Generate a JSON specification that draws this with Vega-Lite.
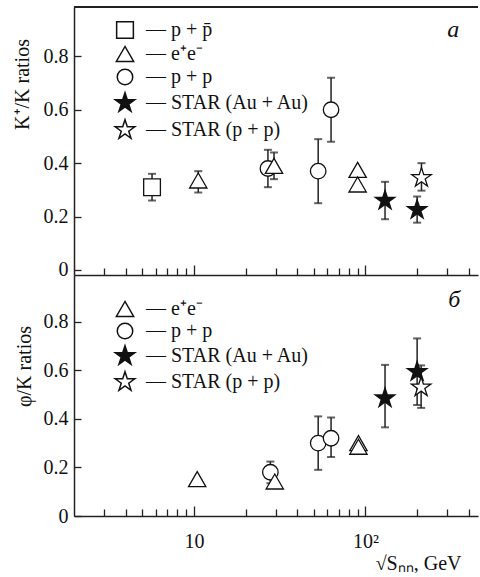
{
  "$schema": "https://vega.github.io/schema/vega-lite/v6.json",
  "background": "white",
  "padding": {"left": 12, "top": 6, "right": 0, "bottom": 0},
  "spacing": 0,
  "bounds": "flush",
  "config": {
    "font": "Liberation Serif",
    "view": {"stroke": null},
    "axis": {"grid": false, "domainColor": "#222", "domainWidth": 1.5, "tickColor": "#222", "tickWidth": 1.3, "labelColor": "#111", "titleColor": "#111", "labelFont": "Liberation Serif", "titleFont": "Liberation Serif", "labelFontSize": 20, "titleFontSize": 20, "titleFontWeight": "normal"},
    "legend": {"labelFont": "Liberation Serif", "labelFontSize": 20, "labelColor": "#111", "padding": 0, "labelLimit": 400}
  },
  "resolve": {"scale": {"shape": "independent", "fill": "independent", "size": "independent"}, "legend": {"shape": "independent", "fill": "independent", "size": "independent"}},
  "vconcat": [
    {
      "width": 404,
      "height": 268,
      "data": {"values": [
        {"x": 5.7, "y": 0.31, "lo": 0.26, "hi": 0.36, "system": "p + p̄"},
        {"x": 10.6, "y": 0.335, "lo": 0.29, "hi": 0.37, "system": "e⁺e⁻"},
        {"x": 27, "y": 0.38, "lo": 0.31, "hi": 0.45, "system": "p + p"},
        {"x": 29.3, "y": 0.39, "lo": 0.34, "hi": 0.44, "system": "e⁺e⁻"},
        {"x": 53, "y": 0.37, "lo": 0.25, "hi": 0.49, "system": "p + p"},
        {"x": 63, "y": 0.6, "lo": 0.48, "hi": 0.72, "system": "p + p"},
        {"x": 90, "y": 0.375, "system": "e⁺e⁻"},
        {"x": 90, "y": 0.32, "system": "e⁺e⁻"},
        {"x": 130, "y": 0.26, "lo": 0.19, "hi": 0.33, "system": "STAR (Au + Au)"},
        {"x": 200, "y": 0.225, "lo": 0.177, "hi": 0.275, "system": "STAR (Au + Au)"},
        {"x": 212, "y": 0.345, "lo": 0.297, "hi": 0.4, "system": "STAR (p + p)"}
      ]},
      "layer": [
        {
          "mark": {"type": "rule", "color": "#222", "strokeWidth": 1.5},
          "encoding": {"y": {"datum": 0.985, "type": "quantitative"}}
        },
        {
          "transform": [{"filter": "isValid(datum.lo)"}],
          "mark": {"type": "errorbar", "color": "#222", "ticks": {"size": 8, "thickness": 2}, "rule": {"strokeWidth": 1.5}},
          "encoding": {
            "x": {"field": "x", "type": "quantitative", "scale": {"type": "log", "domain": [2, 452.7], "nice": false},
              "axis": {"orient": "bottom", "values": [3,4,5,6,7,8,9,10,20,30,40,50,60,70,80,90,100,200,300,400],
                "tickSize": {"condition": {"test": "datum.value == 10 || datum.value == 100", "value": -10}, "value": -7},
                "labels": false, "title": null}},
            "y": {"field": "lo", "type": "quantitative", "scale": {"domain": [-0.019, 0.985], "nice": false, "zero": false},
              "axis": {"orient": "left", "values": [0,0.05,0.1,0.15,0.2,0.25,0.3,0.35,0.4,0.45,0.5,0.55,0.6,0.65,0.7,0.75,0.8,0.85,0.9,0.95], "tickSize": -7, "labelPadding": 13,
                "labelExpr": "datum.value == 0 ? '0' : (abs(datum.value * 5 - round(datum.value * 5)) < 0.001 ? format(datum.value, '.1f') : '')",
                "title": "K⁺/K ratios", "titleAngle": -90, "titleX": -52, "titleY": 77, "titleAlign": "center", "titleBaseline": "middle"}},
            "y2": {"field": "hi"}
          }
        },
        {
          "mark": {"type": "point", "stroke": "#111", "strokeWidth": 1.3, "opacity": 1},
          "encoding": {
            "x": {"field": "x", "type": "quantitative"},
            "y": {"field": "y", "type": "quantitative"},
            "shape": {"field": "system", "type": "nominal",
              "scale": {"domain": ["p + p̄", "e⁺e⁻", "p + p", "STAR (Au + Au)", "STAR (p + p)"], "range": ["square", "triangle-up", "circle", "M0,-1L0.2245,-0.309L0.951,-0.309L0.363,0.118L0.588,0.809L0,0.382L-0.588,0.809L-0.363,0.118L-0.951,-0.309L-0.2245,-0.309Z", "M0,-1L0.2245,-0.309L0.951,-0.309L0.363,0.118L0.588,0.809L0,0.382L-0.588,0.809L-0.363,0.118L-0.951,-0.309L-0.2245,-0.309Z"]},
              "legend": {"orient": "none", "legendX": 40, "legendY": 13, "title": null, "labelOffset": 10, "rowPadding": 1, "labelExpr": "'— ' + datum.label",
                "encode": {"symbols": {"update": {"stroke": {"value": "#111"}, "strokeWidth": {"value": 1.3}}}, "labels": {"enter": {"fontStyle": {"signal": "datum.index < 3 ? 'italic' : 'normal'"}}, "update": {"fontStyle": {"signal": "datum.index < 3 ? 'italic' : 'normal'"}}}}}},
            "fill": {"field": "system", "type": "nominal",
              "scale": {"domain": ["p + p̄", "e⁺e⁻", "p + p", "STAR (Au + Au)", "STAR (p + p)"], "range": ["white", "white", "white", "#111", "white"]},
              "legend": {"orient": "none", "legendX": 40, "legendY": 13, "title": null, "labelOffset": 10, "rowPadding": 1, "labelExpr": "'— ' + datum.label",
                "encode": {"symbols": {"update": {"stroke": {"value": "#111"}, "strokeWidth": {"value": 1.3}}}, "labels": {"enter": {"fontStyle": {"signal": "datum.index < 3 ? 'italic' : 'normal'"}}, "update": {"fontStyle": {"signal": "datum.index < 3 ? 'italic' : 'normal'"}}}}}},
            "size": {"field": "system", "type": "nominal",
              "scale": {"type": "ordinal", "domain": ["p + p̄", "e⁺e⁻", "p + p", "STAR (Au + Au)", "STAR (p + p)"], "range": [280, 300, 240, 420, 420]},
              "legend": {"orient": "none", "legendX": 40, "legendY": 13, "title": null, "labelOffset": 10, "rowPadding": 1, "labelExpr": "'— ' + datum.label",
                "encode": {"symbols": {"update": {"stroke": {"value": "#111"}, "strokeWidth": {"value": 1.3}}}, "labels": {"enter": {"fontStyle": {"signal": "datum.index < 3 ? 'italic' : 'normal'"}}, "update": {"fontStyle": {"signal": "datum.index < 3 ? 'italic' : 'normal'"}}}}}}
          }
        },
        {
          "data": {"values": [{"x": 325, "y": 0.9, "label": "a"}]},
          "mark": {"type": "text", "font": "Liberation Serif", "fontStyle": "italic", "fontSize": 24, "color": "#111"},
          "encoding": {
            "x": {"field": "x", "type": "quantitative"},
            "y": {"field": "y", "type": "quantitative"},
            "text": {"field": "label"}
          }
        }
      ]
    },
    {
      "width": 404,
      "height": 241,
      "data": {"values": [
        {"x": 10.45, "y": 0.152, "system": "e⁺e⁻"},
        {"x": 27.9, "y": 0.18, "lo": 0.135, "hi": 0.224, "system": "p + p"},
        {"x": 29.6, "y": 0.142, "system": "e⁺e⁻"},
        {"x": 53, "y": 0.3, "lo": 0.19, "hi": 0.41, "system": "p + p"},
        {"x": 63, "y": 0.32, "lo": 0.243, "hi": 0.405, "system": "p + p"},
        {"x": 91, "y": 0.3, "system": "e⁺e⁻"},
        {"x": 91, "y": 0.285, "system": "e⁺e⁻"},
        {"x": 130, "y": 0.485, "lo": 0.365, "hi": 0.622, "system": "STAR (Au + Au)"},
        {"x": 200, "y": 0.594, "lo": 0.457, "hi": 0.731, "system": "STAR (Au + Au)"},
        {"x": 211, "y": 0.53, "lo": 0.445, "hi": 0.62, "system": "STAR (p + p)"}
      ]},
      "layer": [
        {
          "transform": [{"filter": "isValid(datum.lo)"}],
          "mark": {"type": "errorbar", "color": "#222", "ticks": {"size": 8, "thickness": 2}, "rule": {"strokeWidth": 1.5}},
          "encoding": {
            "x": {"field": "x", "type": "quantitative", "scale": {"type": "log", "domain": [2, 452.7], "nice": false},
              "axis": {"orient": "bottom", "values": [3,4,5,6,7,8,9,10,20,30,40,50,60,70,80,90,100,200,300,400],
                "tickSize": {"condition": {"test": "datum.value == 10 || datum.value == 100", "value": -10}, "value": -7},
                "labelPadding": 25, "labelExpr": "datum.value == 10 ? '10' : (datum.value == 100 ? '10²' : '')",
                "title": "√Sₙₙ, GeV", "titleX": 387, "titleY": 47, "titleAlign": "right", "titleBaseline": "middle"}},
            "y": {"field": "lo", "type": "quantitative", "scale": {"domain": [0, 0.992], "nice": false, "zero": false},
              "axis": {"orient": "left", "values": [0,0.05,0.1,0.15,0.2,0.25,0.3,0.35,0.4,0.45,0.5,0.55,0.6,0.65,0.7,0.75,0.8,0.85,0.9,0.95], "tickSize": -7, "labelPadding": 13,
                "labelExpr": "datum.value == 0 ? '0' : (abs(datum.value * 5 - round(datum.value * 5)) < 0.001 ? format(datum.value, '.1f') : '')",
                "title": "φ/K ratios", "titleAngle": -90, "titleX": -50, "titleY": 91, "titleAlign": "center", "titleBaseline": "middle"}},
            "y2": {"field": "hi"}
          }
        },
        {
          "mark": {"type": "point", "stroke": "#111", "strokeWidth": 1.3, "opacity": 1},
          "encoding": {
            "x": {"field": "x", "type": "quantitative"},
            "y": {"field": "y", "type": "quantitative"},
            "shape": {"field": "system", "type": "nominal",
              "scale": {"domain": ["e⁺e⁻", "p + p", "STAR (Au + Au)", "STAR (p + p)"], "range": ["triangle-up", "circle", "M0,-1L0.2245,-0.309L0.951,-0.309L0.363,0.118L0.588,0.809L0,0.382L-0.588,0.809L-0.363,0.118L-0.951,-0.309L-0.2245,-0.309Z", "M0,-1L0.2245,-0.309L0.951,-0.309L0.363,0.118L0.588,0.809L0,0.382L-0.588,0.809L-0.363,0.118L-0.951,-0.309L-0.2245,-0.309Z"]},
              "legend": {"orient": "none", "legendX": 40, "legendY": 24, "title": null, "labelOffset": 10, "rowPadding": 0, "labelExpr": "'— ' + datum.label",
                "encode": {"symbols": {"update": {"stroke": {"value": "#111"}, "strokeWidth": {"value": 1.3}}}, "labels": {"enter": {"fontStyle": {"signal": "datum.index < 2 ? 'italic' : 'normal'"}}, "update": {"fontStyle": {"signal": "datum.index < 2 ? 'italic' : 'normal'"}}}}}},
            "fill": {"field": "system", "type": "nominal",
              "scale": {"domain": ["e⁺e⁻", "p + p", "STAR (Au + Au)", "STAR (p + p)"], "range": ["white", "white", "#111", "white"]},
              "legend": {"orient": "none", "legendX": 40, "legendY": 24, "title": null, "labelOffset": 10, "rowPadding": 0, "labelExpr": "'— ' + datum.label",
                "encode": {"symbols": {"update": {"stroke": {"value": "#111"}, "strokeWidth": {"value": 1.3}}}, "labels": {"enter": {"fontStyle": {"signal": "datum.index < 2 ? 'italic' : 'normal'"}}, "update": {"fontStyle": {"signal": "datum.index < 2 ? 'italic' : 'normal'"}}}}}},
            "size": {"field": "system", "type": "nominal",
              "scale": {"type": "ordinal", "domain": ["e⁺e⁻", "p + p", "STAR (Au + Au)", "STAR (p + p)"], "range": [300, 240, 420, 420]},
              "legend": {"orient": "none", "legendX": 40, "legendY": 24, "title": null, "labelOffset": 10, "rowPadding": 0, "labelExpr": "'— ' + datum.label",
                "encode": {"symbols": {"update": {"stroke": {"value": "#111"}, "strokeWidth": {"value": 1.3}}}, "labels": {"enter": {"fontStyle": {"signal": "datum.index < 2 ? 'italic' : 'normal'"}}, "update": {"fontStyle": {"signal": "datum.index < 2 ? 'italic' : 'normal'"}}}}}}
          }
        },
        {
          "data": {"values": [{"x": 329, "y": 0.889, "label": "б"}]},
          "mark": {"type": "text", "font": "Liberation Serif", "fontStyle": "italic", "fontSize": 24, "color": "#111"},
          "encoding": {
            "x": {"field": "x", "type": "quantitative"},
            "y": {"field": "y", "type": "quantitative"},
            "text": {"field": "label"}
          }
        }
      ]
    }
  ]
}
